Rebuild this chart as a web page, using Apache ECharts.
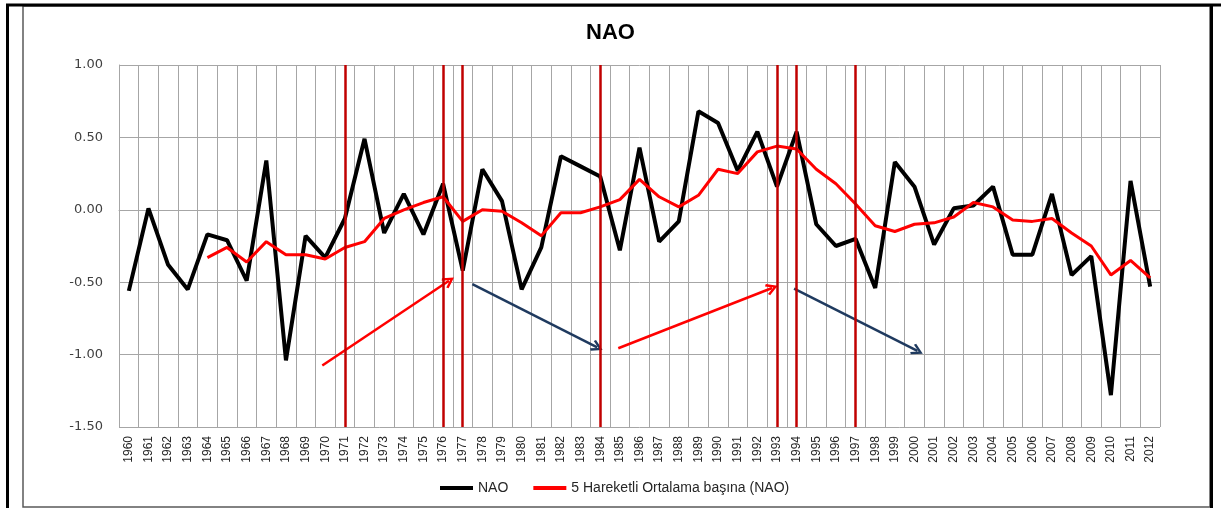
<!DOCTYPE html>
<html>
<head>
<meta charset="utf-8">
<script src="https://cdn.jsdelivr.net/npm/echarts@6/dist/echarts.min.js"></script>
<style>
  html, body { margin: 0; padding: 0; background: #fff; }
  #chart { width: 1221px; height: 508px; }
</style>
</head>
<body>
<div id="chart"></div>
<script>
// years on the category axis
const years = [];
for (let y = 1960; y <= 2012; y++) years.push(String(y));

// NAO index
const naoValues = [
  -0.56, 0.01, -0.38, -0.55, -0.17, -0.21, -0.49, 0.34, -1.04, -0.18,
  -0.33, -0.06, 0.49, -0.16, 0.11, -0.17, 0.18, -0.42, 0.28, 0.06,
  -0.55, -0.26, 0.37, 0.30, 0.23, -0.28, 0.43, -0.22, -0.08, 0.68,
  0.60, 0.27, 0.54, 0.16, 0.54, -0.10, -0.25, -0.20, -0.54, 0.33,
  0.16, -0.24, 0.01, 0.03, 0.16, -0.31, -0.31, 0.11, -0.45, -0.32,
  -1.28, 0.20, -0.53
];

// 5 year moving average (starts 1964)
const maValues = [
  null, null, null, null, -0.33, -0.26, -0.36, -0.22, -0.31, -0.31,
  -0.34, -0.26, -0.22, -0.06, 0.00, 0.05, 0.09, -0.08, 0.00, -0.01,
  -0.09, -0.18, -0.02, -0.02, 0.02, 0.07, 0.21, 0.09, 0.02, 0.10,
  0.28, 0.25, 0.40, 0.44, 0.42, 0.28, 0.18, 0.04, -0.11, -0.15,
  -0.10, -0.09, -0.05, 0.05, 0.02, -0.07, -0.08, -0.06, -0.16, -0.25,
  -0.45, -0.35, -0.47
];

// marked years (dark red vertical lines)
const markYears = ['1971', '1976', '1977', '1984', '1993', '1994', '1997'];

// annotation arrows [year, value] -> [year, value]
const redArrows = [
  [[1969.85, -1.075], [1976.3, -0.49]],
  [[1984.92, -0.956], [1992.75, -0.54]]
];
const blueArrows = [
  [[1977.49, -0.513], [1983.85, -0.95]],
  [[1993.87, -0.545], [2000.15, -0.975]]
];

// open arrow head, tip at top
const chevron = 'path://M50,0 L100,80 L84,92 L50,36 L16,92 L0,80 Z';
const font = 'Liberation Sans, Arial, sans-serif';

const chart = echarts.init(document.getElementById('chart'));

const option = {
  animation: false,
  backgroundColor: '#fff',
  title: {
    text: 'NAO',
    left: 'center',
    top: 17,
    textStyle: { fontFamily: font, fontWeight: 'bold', fontSize: 22, color: '#000' }
  },
  legend: {
    data: ['NAO', '5 Hareketli Ortalama başına (NAO)'],
    left: 435,
    top: 476,
    icon: 'rect',
    itemWidth: 33,
    itemHeight: 4,
    itemGap: 25,
    textStyle: { fontFamily: font, fontSize: 14, color: '#262626' }
  },
  grid: { left: 119, right: 61, top: 65, bottom: 81, containLabel: false },
  xAxis: [
    {
      type: 'category',
      data: years,
      boundaryGap: true,
      axisLine: { lineStyle: { color: '#a6a6a6', width: 1 } },
      axisTick: { show: false },
      axisLabel: {
        rotate: 90,
        interval: 0,
        margin: 9,
        fontFamily: font,
        fontSize: 12,
        color: '#262626'
      },
      splitLine: { show: true, interval: 0, lineStyle: { color: '#a6a6a6', width: 1 } }
    },
    {
      type: 'value',
      show: false,
      min: 1959.5,
      max: 2012.5
    }
  ],
  yAxis: {
    type: 'value',
    min: -1.5,
    max: 1,
    interval: 0.5,
    axisLine: { show: true, lineStyle: { color: '#a6a6a6', width: 1 } },
    axisTick: { show: false },
    axisLabel: {
      margin: 16,
      fontFamily: 'DejaVu Sans, sans-serif',
      fontSize: 13,
      color: '#404040',
      formatter: v => v.toFixed(2)
    },
    splitLine: { lineStyle: { color: '#a6a6a6', width: 1 } }
  },
  graphic: [
    { type: 'rect', shape: { x: 23, y: 6, width: 1187, height: 501 },
      style: { fill: 'none', stroke: '#595959', lineWidth: 1.5 }, silent: true },
    { type: 'rect', shape: { x: 6, y: 4, width: 3, height: 504 }, style: { fill: '#000' }, silent: true },
    { type: 'rect', shape: { x: 6, y: 3.5, width: 1215, height: 3 }, style: { fill: '#000' }, silent: true },
    { type: 'rect', shape: { x: 1210, y: 4, width: 3, height: 504 }, style: { fill: '#000' }, silent: true }
  ],
  series: [
    {
      name: 'NAO',
      type: 'line',
      data: naoValues,
      showSymbol: false,
      lineStyle: { color: '#000', width: 4 },
      itemStyle: { color: '#000' },
      z: 3,
      markLine: {
        silent: true,
        symbol: ['none', 'none'],
        label: { show: false },
        lineStyle: { color: '#C00000', width: 2.5, type: 'solid' },
        data: markYears.map(y => ({ xAxis: y }))
      }
    },
    {
      name: '5 Hareketli Ortalama başına (NAO)',
      type: 'line',
      data: maValues,
      showSymbol: false,
      connectNulls: false,
      lineStyle: { color: '#FF0000', width: 3 },
      itemStyle: { color: '#FF0000' },
      z: 4
    },
    {
      name: 'redArrows',
      type: 'lines',
      coordinateSystem: 'cartesian2d',
      xAxisIndex: 1,
      yAxisIndex: 0,
      silent: true,
      symbol: ['none', chevron],
      symbolSize: [16, 12],
      lineStyle: { color: '#FF0000', width: 2.5, opacity: 1, curveness: 0 },
      data: redArrows.map(c => ({ coords: c }))
    },
    {
      name: 'blueArrows',
      type: 'lines',
      coordinateSystem: 'cartesian2d',
      xAxisIndex: 1,
      yAxisIndex: 0,
      silent: true,
      symbol: ['none', chevron],
      symbolSize: [16, 12],
      lineStyle: { color: '#1F3A5F', width: 2.5, opacity: 1, curveness: 0 },
      data: blueArrows.map(c => ({ coords: c }))
    }
  ]
};

chart.setOption(option);
</script>
</body>
</html>
